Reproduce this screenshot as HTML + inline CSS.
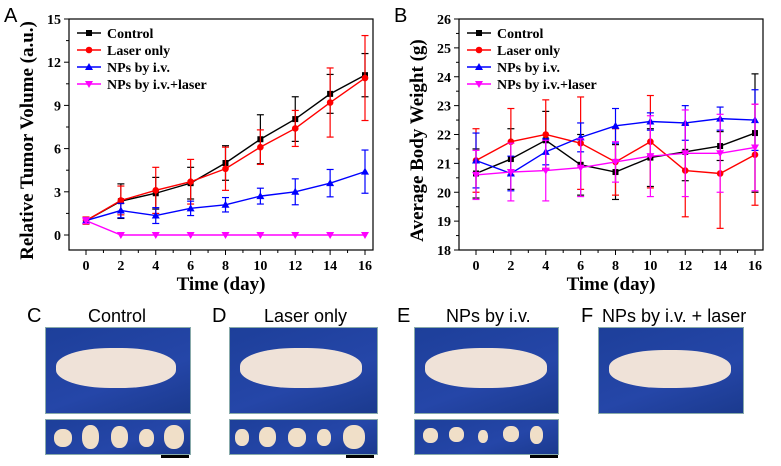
<!DOCTYPE html>
<html><head><meta charset="utf-8"><style>
body{margin:0;background:#fff;width:781px;height:466px;overflow:hidden;position:relative;font-family:"Liberation Sans",sans-serif}
.lab{position:absolute;font-size:18px;color:#000}
.ph{position:absolute;background:linear-gradient(160deg,#1d3f9a,#2546a8 60%,#1b3a8e);border:1px solid #8aa}
.mouse{position:absolute;background:#efe2d8;border-radius:45%}
.tum{position:absolute;background:#f0dfc8;border-radius:45%}
.bar{position:absolute;height:3px;width:28px;background:#000}
</style></head><body>
<svg id="chart" width="781" height="300" style="position:absolute;left:0;top:0"></svg>

<div class="lab" style="left:27px;top:305px;font-size:20px">C</div>
<div class="lab" style="left:88px;top:306px">Control</div>
<div class="lab" style="left:212px;top:305px;font-size:20px">D</div>
<div class="lab" style="left:264px;top:306px">Laser only</div>
<div class="lab" style="left:397px;top:305px;font-size:20px">E</div>
<div class="lab" style="left:446px;top:306px">NPs by i.v.</div>
<div class="lab" style="left:581px;top:305px;font-size:20px">F</div>
<div class="lab" style="left:602px;top:306px">NPs by i.v. + laser</div>

<div class="ph" style="left:45px;top:327px;width:144px;height:85px"><div class="mouse" style="left:10px;top:20px;width:120px;height:40px"></div></div>
<div class="ph" style="left:229px;top:327px;width:147px;height:85px"><div class="mouse" style="left:10px;top:20px;width:122px;height:40px"></div></div>
<div class="ph" style="left:414px;top:327px;width:143px;height:85px"><div class="mouse" style="left:10px;top:20px;width:122px;height:40px"></div></div>
<div class="ph" style="left:598px;top:327px;width:144px;height:85px"><div class="mouse" style="left:10px;top:22px;width:122px;height:38px"></div></div>

<div class="ph" style="left:45px;top:419px;width:144px;height:34px">
<div class="tum" style="left:8px;top:9px;width:18px;height:18px"></div><div class="tum" style="left:36px;top:5px;width:17px;height:24px"></div><div class="tum" style="left:65px;top:6px;width:17px;height:22px"></div><div class="tum" style="left:93px;top:9px;width:15px;height:18px"></div><div class="tum" style="left:118px;top:5px;width:20px;height:24px"></div></div>
<div class="ph" style="left:229px;top:419px;width:147px;height:34px">
<div class="tum" style="left:5px;top:9px;width:14px;height:17px"></div><div class="tum" style="left:29px;top:7px;width:17px;height:20px"></div><div class="tum" style="left:58px;top:8px;width:18px;height:19px"></div><div class="tum" style="left:87px;top:9px;width:14px;height:17px"></div><div class="tum" style="left:113px;top:5px;width:22px;height:24px"></div></div>
<div class="ph" style="left:414px;top:419px;width:143px;height:34px">
<div class="tum" style="left:8px;top:8px;width:15px;height:15px"></div><div class="tum" style="left:34px;top:7px;width:15px;height:15px"></div><div class="tum" style="left:63px;top:10px;width:10px;height:13px"></div><div class="tum" style="left:88px;top:6px;width:16px;height:16px"></div><div class="tum" style="left:115px;top:6px;width:13px;height:18px"></div></div>
<div class="bar" style="left:161px;top:455px"></div>
<div class="bar" style="left:346px;top:455px"></div>
<div class="bar" style="left:530px;top:455px"></div>

<script>
const days=[0,2,4,6,8,10,12,14,16];
const seriesNames=["Control","Laser only","NPs by i.v.","NPs by i.v.+laser"];
const colors=["#000","#f00","#00f","#f0f"];
const markers=["square","circle","triangle","down"];
const volCtrl=[1,2.35,2.9,3.6,5.0,6.65,8.05,9.8,11.1];
const volCtrlErr=[0.2,1.2,1.1,1.1,1.2,1.7,1.55,1.35,1.5];
const volLaser=[1,2.4,3.1,3.7,4.6,6.1,7.4,9.2,10.9];
const volLaserErr=[0.25,1.0,1.6,1.55,1.5,1.2,1.25,2.4,2.95];
const volNps=[1,1.7,1.35,1.85,2.1,2.7,3.0,3.6,4.4];
const volNpsErr=[0.2,0.5,0.55,0.5,0.5,0.55,0.9,0.95,1.5];
const volNpsL=[1,0,0,0,0,0,0,0,0];
const volNpsLErr=[0.2,0,0,0,0,0,0,0,0];
const wCtrl=[20.65,21.15,21.8,20.95,20.7,21.2,21.4,21.6,22.05];
const wCtrlErr=[0.85,1.05,1.0,1.05,0.95,1.0,1.0,0.5,2.05];
const wLaser=[21.1,21.75,22.0,21.7,21.05,21.75,20.75,20.65,21.3];
const wLaserErr=[1.1,1.15,1.2,1.6,1.15,1.6,1.6,1.9,1.75];
const wNps=[21.1,20.65,21.4,21.9,22.3,22.45,22.4,22.55,22.5];
const wNpsErr=[0.95,0.6,0.45,0.5,0.6,0.3,0.6,0.4,1.05];
const wNpsL=[20.6,20.7,20.75,20.85,21.05,21.25,21.35,21.35,21.55];
const wNpsLErr=[0.85,1.0,1.05,1.0,0.7,1.4,1.5,1.35,1.5];
const xTicks=[0,2,4,6,8,10,12,14,16];
const yTicksA=[0,3,6,9,12,15];
const yTicksB=[18,19,20,21,22,23,24,25,26];

const svg=document.getElementById('chart');
const NS='http://www.w3.org/2000/svg';
function mk(t,a,p){const e=document.createElementNS(NS,t);for(const k in a)e.setAttribute(k,a[k]);(p||svg).appendChild(e);return e;}
function marker(g,type,x,y,c){
 let e;
 if(type==='square')e=mk('rect',{x:x-3,y:y-3,width:6,height:6,fill:c},g);
 else if(type==='circle')e=mk('circle',{cx:x,cy:y,r:3.3,fill:c},g);
 else if(type==='triangle')e=mk('polygon',{points:`${x},${y-4} ${x-4},${y+3} ${x+4},${y+3}`,fill:c},g);
 else e=mk('polygon',{points:`${x},${y+4} ${x-4},${y-3} ${x+4},${y-3}`,fill:c},g);
 return e;
}
function chart(o){
 const {L,R,T,B,xmin,xmax,ymin,ymax,yTicks,series,errs,title,letter,name}=o;
 const g=mk('g',{});
 
 
 const xs=v=>L+17+(v-xmin)/(xmax-xmin)*(R-L-25);
 const ys=v=>B-15+(ymin===0?0:15)-(v-ymin)/(ymax-ymin)*(B-T-(ymin===0?15:0));
 const lt=mk('text',{x:o.letterX,y:22,'font-size':20,'font-family':'Liberation Sans, sans-serif'},g);lt.textContent=letter;
 
 
 const box=mk('rect',{x:L,y:T,width:R-L,height:B-T,fill:'none',stroke:'#000','stroke-width':1.2},g);
 
 
 xTicks.forEach((v,i)=>{const x=xs(v);mk('line',{x1:x,x2:x,y1:B,y2:B+5,stroke:'#000'},g);
  if(i<xTicks.length-1){const xm=xs(v+1);mk('line',{x1:xm,x2:xm,y1:B,y2:B+3,stroke:'#000'},g);}
  const t=mk('text',{x:x,y:B+20,'text-anchor':'middle','font-size':14,'font-weight':'bold','font-family':'Liberation Serif, serif'},g);t.textContent=v;
  
  });
 yTicks.forEach((v,i)=>{const y=ys(v);mk('line',{x1:L-5,x2:L,y1:y,y2:y,stroke:'#000'},g);
  if(i<yTicks.length-1){const ym=ys(v+(yTicks[1]-yTicks[0])/2);mk('line',{x1:L-3,x2:L,y1:ym,y2:ym,stroke:'#000'},g);}
  const t=mk('text',{x:L-8,y:y+5,'text-anchor':'end','font-size':14,'font-weight':'bold','font-family':'Liberation Serif, serif'},g);t.textContent=v;
  
  });
 const xt=mk('text',{x:(L+R)/2,y:B+40,'text-anchor':'middle','font-size':19,'font-weight':'bold','font-family':'Liberation Serif, serif'},g);xt.textContent='Time (day)';
 
 
 const yc=(T+B)/2, tx=L-36;
 const yt=mk('text',{x:tx,y:yc+6,'text-anchor':'middle','font-size':19,'font-weight':'bold','font-family':'Liberation Serif, serif',transform:`rotate(-90 ${tx} ${yc+6})`},g);yt.textContent=title;
 
 
 series.forEach((s,k)=>{
  const sg=mk('g',{},g);
  
  
  s.forEach((v,i)=>{const x=xs(days[i]),e=errs[k][i];if(e>0){
   mk('line',{x1:x,x2:x,y1:ys(v-e),y2:ys(v+e),stroke:colors[k],'stroke-width':1.2},sg);
   mk('line',{x1:x-3.5,x2:x+3.5,y1:ys(v-e),y2:ys(v-e),stroke:colors[k],'stroke-width':1.2},sg);
   mk('line',{x1:x-3.5,x2:x+3.5,y1:ys(v+e),y2:ys(v+e),stroke:colors[k],'stroke-width':1.2},sg);}});
  mk('polyline',{points:s.map((v,i)=>xs(days[i])+','+ys(v)).join(' '),fill:'none',stroke:colors[k],'stroke-width':1.4},sg);
  s.forEach((v,i)=>{const m=marker(sg,markers[k],xs(days[i]),ys(v),colors[k]);
   
   });
 });
 seriesNames.forEach((n,k)=>{const y=T+14+k*17;const lg=mk('g',{},g);
  
  
  mk('line',{x1:L+8,x2:L+32,y1:y,y2:y,stroke:colors[k],'stroke-width':1.4},lg);
  marker(lg,markers[k],L+20,y,colors[k]);
  const t=mk('text',{x:L+38,y:y+5,'font-size':14,'font-weight':'bold','font-family':'Liberation Serif, serif'},lg);t.textContent=n;});
}
chart({L:69,R:373,T:19,B:250,xmin:0,xmax:16,ymin:0,ymax:15,yTicks:yTicksA,series:[volCtrl,volLaser,volNps,volNpsL],errs:[volCtrlErr,volLaserErr,volNpsErr,volNpsLErr],title:'Relative Tumor Volume (a.u.)',letter:'A',letterX:4,name:'tumor-volume-chart'});
chart({L:459,R:763,T:19,B:250,xmin:0,xmax:16,ymin:18,ymax:26,yTicks:yTicksB,series:[wCtrl,wLaser,wNps,wNpsL],errs:[wCtrlErr,wLaserErr,wNpsErr,wNpsLErr],title:'Average Body Weight (g)',letter:'B',letterX:394,name:'body-weight-chart'});
</script>
</body></html>
